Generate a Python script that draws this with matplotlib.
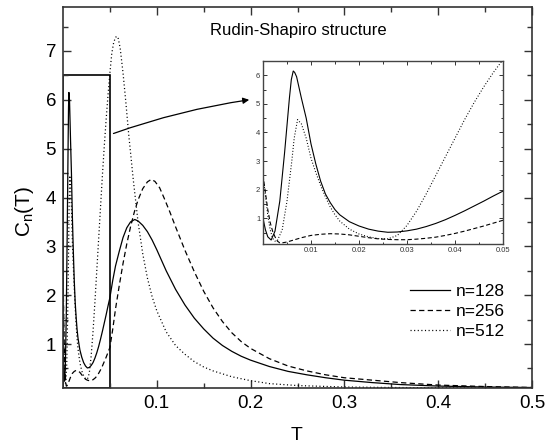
import matplotlib
matplotlib.use("Agg")
import matplotlib.pyplot as plt
from matplotlib.patches import Rectangle

plt.rcParams['font.family'] = ['Liberation Sans', 'DejaVu Sans']
plt.rcParams['mathtext.default'] = 'regular'
plt.rcParams['lines.scale_dashes'] = False

# ---- data ----
T128 = [0, 0.0005, 0.001, 0.0017, 0.0025, 0.0035, 0.0045, 0.0055, 0.0059, 0.0063, 0.0066, 0.007,
        0.008, 0.009, 0.010, 0.011, 0.012, 0.013, 0.014, 0.015, 0.016, 0.018, 0.020, 0.022,
        0.024, 0.026, 0.028, 0.030, 0.032, 0.034, 0.036, 0.038, 0.040, 0.042, 0.044, 0.046,
        0.048, 0.050, 0.053, 0.056, 0.060, 0.064, 0.068, 0.072, 0.0765, 0.080, 0.085, 0.090,
        0.095, 0.100, 0.110, 0.120, 0.130, 0.140, 0.150, 0.160, 0.170, 0.180, 0.190, 0.200,
        0.220, 0.240, 0.260, 0.280, 0.300, 0.330, 0.360, 0.400, 0.450, 0.500]
C128 = [1.0, 0.6, 0.35, 0.24, 0.55, 1.6, 3.3, 5.2, 5.85, 6.15, 6.1, 5.95,
        5.2, 4.5, 3.6, 2.9, 2.3, 1.85, 1.55, 1.3, 1.12, 0.88, 0.73, 0.62,
        0.55, 0.51, 0.52, 0.56, 0.62, 0.71, 0.82, 0.95, 1.10, 1.26, 1.43, 1.60,
        1.78, 1.95, 2.3, 2.6, 2.9, 3.18, 3.38, 3.5, 3.55, 3.52, 3.43, 3.3,
        3.13, 2.93, 2.50, 2.12, 1.80, 1.53, 1.31, 1.12, 0.97, 0.85, 0.75, 0.67,
        0.54, 0.44, 0.37, 0.31, 0.26, 0.21, 0.17, 0.14, 0.12, 0.11]

T256 = [0, 0.0005, 0.001, 0.0015, 0.002, 0.0025, 0.003, 0.0035, 0.004, 0.005, 0.006, 0.008,
        0.010, 0.012, 0.014, 0.016, 0.018, 0.020, 0.022, 0.024, 0.026, 0.028, 0.030, 0.032,
        0.034, 0.036, 0.038, 0.040, 0.042, 0.044, 0.046, 0.048, 0.050, 0.053, 0.056, 0.060,
        0.064, 0.068, 0.072, 0.076, 0.080, 0.085, 0.090, 0.094, 0.098, 0.103, 0.108, 0.114,
        0.120, 0.130, 0.140, 0.150, 0.160, 0.170, 0.180, 0.190, 0.200, 0.220, 0.240, 0.260,
        0.280, 0.300, 0.330, 0.360, 0.400, 0.450, 0.500]
C256 = [2.5, 1.9, 1.3, 0.85, 0.55, 0.35, 0.2, 0.14, 0.14, 0.17, 0.22, 0.32,
        0.40, 0.44, 0.46, 0.45, 0.42, 0.37, 0.32, 0.28, 0.26, 0.25, 0.25, 0.27,
        0.30, 0.34, 0.40, 0.47, 0.55, 0.64, 0.73, 0.83, 0.93, 1.3, 1.72, 2.2,
        2.65, 3.05, 3.4, 3.7, 3.95, 4.18, 4.32, 4.37, 4.33, 4.2, 3.98, 3.7,
        3.4, 2.92, 2.48, 2.08, 1.74, 1.46, 1.23, 1.05, 0.91, 0.70, 0.55, 0.45,
        0.37, 0.31, 0.26, 0.21, 0.16, 0.13, 0.11]

T512 = [0, 0.0005, 0.001, 0.0015, 0.002, 0.0025, 0.003, 0.004, 0.005, 0.006, 0.0065, 0.0072,
        0.008, 0.009, 0.010, 0.011, 0.012, 0.013, 0.014, 0.015, 0.016, 0.018, 0.020, 0.022,
        0.024, 0.026, 0.028, 0.030, 0.032, 0.034, 0.036, 0.038, 0.040, 0.042, 0.044, 0.046,
        0.048, 0.050, 0.052, 0.054, 0.056, 0.0575, 0.059, 0.061, 0.064, 0.067, 0.070, 0.075,
        0.080, 0.085, 0.090, 0.095, 0.100, 0.110, 0.120, 0.130, 0.140, 0.150, 0.160, 0.180,
        0.200, 0.220, 0.250, 0.300, 0.350, 0.400, 0.450, 0.500]
C512 = [2.5, 1.8, 1.1, 0.6, 0.3, 0.2, 0.22, 0.6, 1.6, 3.0, 3.8, 4.45,
        4.3, 3.8, 3.1, 2.6, 2.15, 1.75, 1.4, 1.12, 0.9, 0.62, 0.45, 0.35,
        0.29, 0.28, 0.40, 0.75, 1.25, 1.85, 2.5, 3.15, 3.8, 4.45, 5.05, 5.6,
        6.1, 6.55, 6.95, 7.17, 7.28, 7.30, 7.25, 7.05, 6.55, 5.95, 5.3, 4.35,
        3.5, 2.85, 2.35, 1.97, 1.68, 1.25, 0.97, 0.79, 0.64, 0.53, 0.45, 0.33,
        0.25, 0.19, 0.15, 0.12, 0.11, 0.105, 0.10, 0.10]

labels = ['n=128', 'n=256', 'n=512']
main_xticks = [0.1, 0.2, 0.3, 0.4, 0.5]
main_yticks = [1, 2, 3, 4, 5, 6, 7]
inset_xticks = [0.01, 0.02, 0.03, 0.04, 0.05]
inset_yticks = [1, 2, 3, 4, 5, 6]

W, H = 551, 447
fig = plt.figure(figsize=(W / 100, H / 100), dpi=100)

def fx(px):
    return px / W

def fy(py):
    return 1 - py / H

ax = fig.add_axes([fx(63), fy(388), fx(532) - fx(63), fy(7) - fy(388)])
styles = [dict(ls='-'), dict(ls=(0, (3.8, 2.4))), dict(ls=(0, (0.8, 1.8)))]
series = [(T128, C128), (T256, C256), (T512, C512)]
for (t, c), st, lab in zip(series, styles, labels):
    ax.plot(t, c, color='black', lw=0.9, label=lab, **st)

ax.set_xlim(0, 0.5)
ax.set_ylim(0.1, 7.9)
ax.set_xticks(main_xticks)
ax.set_xticklabels([f"{v:g}" for v in main_xticks])
ax.set_yticks(main_yticks)
ax.set_xticks([0.05, 0.15, 0.25, 0.35, 0.45], minor=True)
ax.set_yticks([0.5, 1.5, 2.5, 3.5, 4.5, 5.5, 6.5, 7.5], minor=True)
ax.tick_params(which='both', direction='in', top=True, right=True, labelsize=13.5,
               width=1.0, color='#333333')
ax.tick_params(which='major', length=6, pad=5)
ax.tick_params(which='minor', length=3.5)
for s in ax.spines.values():
    s.set_linewidth(1.2)
    s.set_color('#333333')

ax.add_patch(Rectangle((0, 0.1), 0.05, 6.4, fill=False, ec='black', lw=1.2))

ax.annotate('', xy=(0.1985, 6.0), xytext=(0.0538, 5.31),
            arrowprops=dict(arrowstyle='-|>', color='black', lw=0.9,
                            mutation_scale=9, shrinkA=0, shrinkB=0,
                            connectionstyle='arc3,rad=-0.05'))

leg = ax.legend(loc='upper left', bbox_to_anchor=(fx(410), fy(284)),
                bbox_transform=fig.transFigure, frameon=False, fontsize=12.5,
                handlelength=2.3, handletextpad=0.35, labelspacing=0.28,
                borderpad=0, borderaxespad=0)

fig.text(fx(25), fy(211), r'C$_n$(T)', rotation=90, ha='center', va='center', fontsize=15)
fig.text(fx(297), fy(435), 'T', ha='center', va='center', fontsize=14)
fig.text(fx(210), fy(31), 'Rudin-Shapiro structure', ha='left', va='center', fontsize=12)

# inset
ins = fig.add_axes([fx(263), fy(244), fx(503) - fx(263), fy(61) - fy(244)])
istyles = [dict(ls='-'), dict(ls=(0, (3.0, 1.8))), dict(ls=(0, (0.7, 1.4)))]
for (t, c), st in zip(series, istyles):
    ins.plot(t, c, color='black', lw=0.8, **st)
ins.set_xlim(0, 0.05)
ins.set_ylim(0.1, 6.5)
ins.set_xticks(inset_xticks)
ins.set_xticklabels([f"{v:g}" for v in inset_xticks])
ins.set_yticks(inset_yticks)
ins.set_xticks([0.005, 0.015, 0.025, 0.035, 0.045], minor=True)
ins.set_yticks([0.5, 1.5, 2.5, 3.5, 4.5, 5.5], minor=True)
ins.tick_params(which='both', direction='in', top=True, right=True, labelsize=5.5,
                width=0.7, pad=2, color='#333333', labelcolor='#333333')
ins.tick_params(which='major', length=3)
ins.tick_params(which='minor', length=1.8)
for s in ins.spines.values():
    s.set_linewidth(1.0)
    s.set_color('#444444')

fig.savefig('out.png', dpi=100)
